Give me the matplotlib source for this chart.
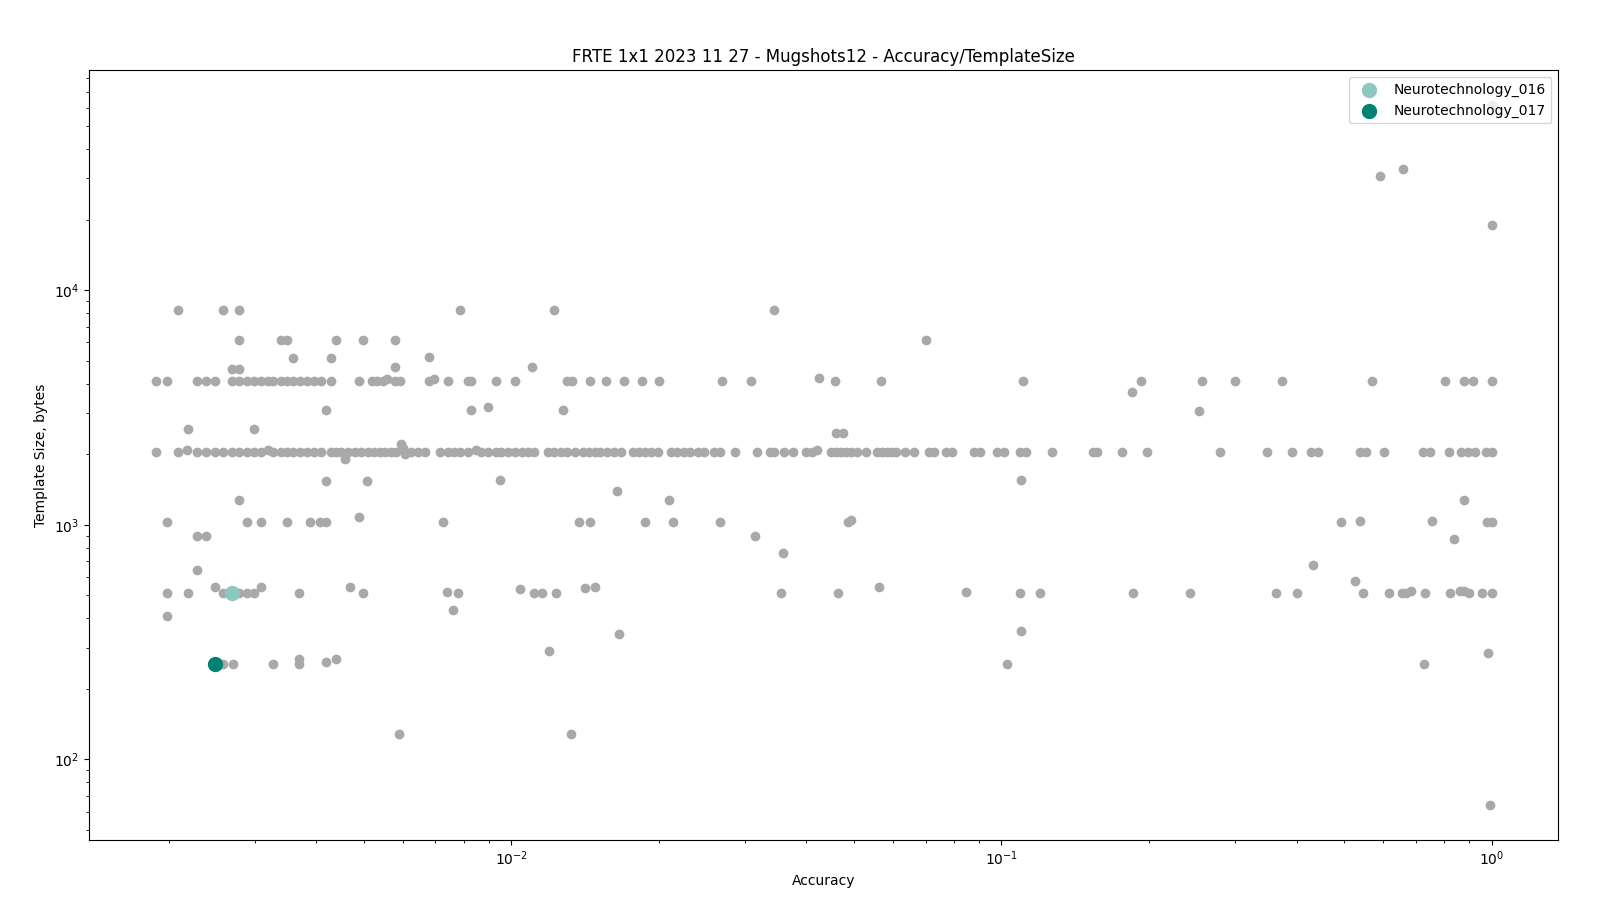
import matplotlib
matplotlib.use("Agg")
import matplotlib.pyplot as plt

# accuracy values, grouped by template size row
acc_8192 = [0.00209, 0.00258, 0.00278, 0.00787, 0.0122, 0.0344]
acc_6144 = [0.00278, 0.00339, 0.00349, 0.00438, 0.00498, 0.00578, 0.0701]
acc_4096 = [0.00188, 0.00198, 0.00228, 0.00238, 0.00249, 0.00269, 0.00278, 0.00289, 0.00299,
            0.00309, 0.00319, 0.00327, 0.00339, 0.00349, 0.00359, 0.00370, 0.00382, 0.00395,
            0.00409, 0.00428, 0.00488, 0.00519, 0.00533, 0.00546, 0.00578, 0.00593, 0.00678,
            0.00743, 0.00815, 0.00827, 0.00929, 0.01015, 0.0130, 0.0133, 0.0145, 0.0156,
            0.0170, 0.0185, 0.0200, 0.0269, 0.0308, 0.0458, 0.0567, 0.1109, 0.1923, 0.256,
            0.299, 0.374, 0.570, 0.804, 0.879, 0.918, 1.0]
acc_2048 = [0.00188, 0.00209, 0.00228, 0.00238, 0.00249, 0.00258, 0.00269, 0.00278, 0.00289,
            0.00299, 0.00309, 0.00327, 0.00339, 0.00349, 0.00359, 0.00370, 0.00382, 0.00395,
            0.00409, 0.00428, 0.00438, 0.00450, 0.00464, 0.00479, 0.00494, 0.00510, 0.00525,
            0.00539, 0.00553, 0.00569, 0.00582, 0.00625, 0.00645, 0.00665, 0.00716, 0.00743,
            0.00764, 0.00784, 0.00815, 0.00868, 0.00896, 0.00931,
            0.00953, 0.00984, 0.01015, 0.0105, 0.0108, 0.0111, 0.0119, 0.0122, 0.0126, 0.0130,
            0.0135, 0.0140, 0.0144, 0.0148, 0.0152, 0.0157, 0.0162, 0.0167, 0.0177, 0.0182,
            0.0187, 0.0193, 0.0199, 0.0212, 0.0218, 0.0225, 0.0232, 0.0240, 0.0247, 0.0259,
            0.0267, 0.0286, 0.0317, 0.0337, 0.0344, 0.0360, 0.0375, 0.0399, 0.0411, 0.0449,
            0.0459, 0.0470, 0.0481, 0.0492, 0.0508, 0.0528, 0.0558, 0.0571, 0.0585, 0.0594,
            0.0608, 0.0637, 0.0662, 0.0711, 0.0728, 0.0769, 0.0794, 0.0879, 0.0906, 0.0980,
            0.1011, 0.109, 0.112, 0.1267, 0.1535, 0.157, 0.176, 0.1985, 0.2787, 0.3476, 0.392,
            0.4277, 0.4424, 0.539, 0.5546, 0.604, 0.724, 0.750, 0.819, 0.868, 0.893, 0.924,
            0.975, 1.0]
acc_1024 = [0.00198, 0.00289, 0.00308, 0.00348, 0.00388, 0.00407, 0.00418, 0.00727, 0.01377,
            0.0145, 0.0187, 0.0214, 0.0267, 0.0486, 0.493, 0.979, 1.0]
acc_512 = [0.00198, 0.00219, 0.00258, 0.00269, 0.00278, 0.00289, 0.00299, 0.00368, 0.00498,
           0.00778, 0.01114, 0.01156, 0.01235, 0.0355, 0.0463, 0.1089, 0.1196, 0.1853, 0.243,
           0.364, 0.401, 0.546, 0.618, 0.656, 0.669, 0.732, 0.821, 0.898, 0.956, 1.0]
acc_256 = [0.00258, 0.00270, 0.00327, 0.00368, 0.1025, 0.728]

# points off the main rows
misc_acc = [0.00578, 0.0110, 0.00269, 0.00278, 0.00358, 0.00428, 0.00678, 0.00557, 0.00695,
            0.0425, 0.185, 0.00418, 0.00826, 0.00898, 0.01276, 0.2535, 0.00219, 0.00299,
            0.0459, 0.0474, 0.00218, 0.00319, 0.00845, 0.0421, 0.00596, 0.00602, 0.00608,
            0.00457, 0.00418, 0.00507, 0.00946, 0.1096, 0.0164, 0.00278, 0.0210, 0.879,
            0.00488, 0.0492, 0.539, 0.756, 0.00228, 0.00238, 0.0314, 0.837, 0.0358, 0.00228,
            0.4325, 0.527, 0.00248, 0.00308, 0.00468, 0.00738, 0.0104, 0.01416, 0.01483,
            0.0562, 0.0845, 0.686, 0.864, 0.877, 0.00368, 0.00418, 0.00438, 0.00198, 0.00759,
            0.0166, 0.1096, 0.01196, 0.984, 0.00589, 0.01325, 0.993, 0.591, 0.661, 1.0, 1.0]
misc_size = [4720, 4720, 4608, 4608, 5120, 5120, 5200, 4200, 4200,
             4240, 3690, 3072, 3072, 3190, 3072, 3070, 2560, 2560,
             2470, 2470, 2080, 2080, 2080, 2090, 2200, 2120, 2010,
             1915, 1536, 1536, 1560, 1560, 1400, 1280, 1280, 1280,
             1085, 1050, 1040, 1040, 896, 896, 893, 873, 762, 640,
             676, 578, 543, 543, 541, 518, 535, 540, 545,
             545, 519, 520, 520, 520, 267, 261, 267, 410, 435,
             344, 352, 291, 285, 128, 128, 64, 30500, 32700, 19000, 61400]

# highlighted algorithms
hl_names = ["Neurotechnology_016", "Neurotechnology_017"]
hl_acc = [0.00269, 0.00248]
hl_size = [512, 256]
hl_colors = ["#8cc8bf", "#008272"]

x = []
y = []
for size, accs in [(8192, acc_8192), (6144, acc_6144), (4096, acc_4096), (2048, acc_2048),
                   (1024, acc_1024), (512, acc_512), (256, acc_256)]:
    x += accs
    y += [size] * len(accs)
x += misc_acc
y += misc_size

fig, ax = plt.subplots(figsize=(16, 9), dpi=100)
ax.scatter(x, y, s=36, color="darkgray")
for name, a, sz, c in zip(hl_names, hl_acc, hl_size, hl_colors):
    ax.scatter(a, sz, s=100, color=c, label=name)

ax.set_xscale("log")
ax.set_yscale("log")
ax.set_xlabel("Accuracy")
ax.set_ylabel("Template Size, bytes")
ax.set_title("FRTE 1x1 2023 11 27 - Mugshots12 - Accuracy/TemplateSize")
ax.legend(loc="upper right")

fig.subplots_adjust(left=0.0555, right=0.974, top=0.922, bottom=0.0667)
fig.savefig("out.png")
